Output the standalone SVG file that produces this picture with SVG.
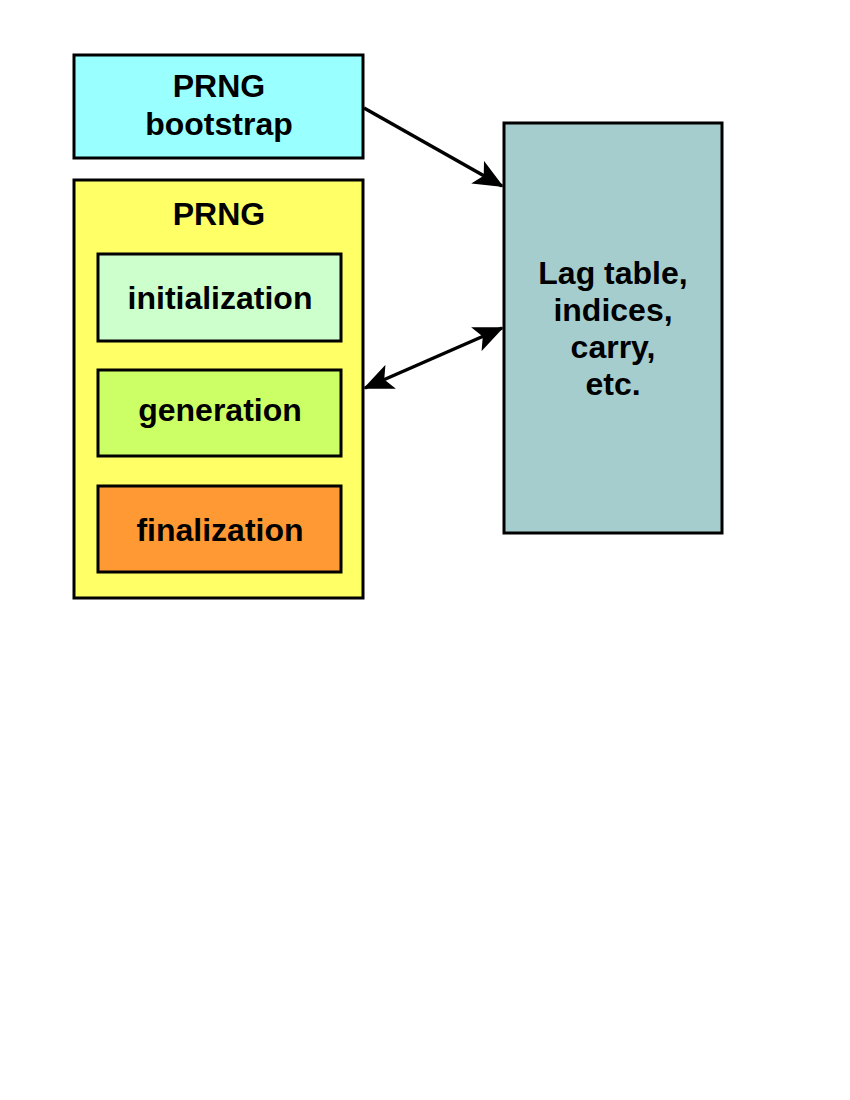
<svg xmlns="http://www.w3.org/2000/svg" width="850" height="1100" viewBox="0 0 850 1100">
<style>
.box{stroke:#000;stroke-width:3}
.t{font-family:"Liberation Sans",Arial,sans-serif;font-weight:bold;font-size:32px;text-anchor:middle;fill:#000}
.c{stroke:#000;stroke-width:3.5;fill:none}
</style>
<defs>
<marker id="ah" markerUnits="userSpaceOnUse" markerWidth="30" markerHeight="26" refX="28" refY="13" orient="auto-start-reverse" viewBox="0 0 30 26">
<path d="M0,0 L30,13 L0,26 L7,13 Z" fill="#000"/>
</marker>
</defs>
<rect width="850" height="1100" fill="#fff"/>
<g id="bootstrap">
<rect class="box" x="74" y="55" width="289" height="103" fill="#99FFFF"/>
<text class="t" x="219" y="97">PRNG</text>
<text class="t" x="219" y="135">bootstrap</text>
</g>
<g id="prng">
<rect class="box" x="74" y="180" width="289" height="418" fill="#FFFF66"/>
<text class="t" x="219" y="225">PRNG</text>
</g>
<g id="initialization">
<rect class="box" x="98" y="254" width="243" height="87" fill="#CCFFCC"/>
<text class="t" x="220" y="309">initialization</text>
</g>
<g id="generation">
<rect class="box" x="98" y="370" width="243" height="86" fill="#CCFF66"/>
<text class="t" x="220" y="421">generation</text>
</g>
<g id="finalization">
<rect class="box" x="98" y="486" width="243" height="86" fill="#FF9933"/>
<text class="t" x="220" y="541">finalization</text>
</g>
<g id="lagtable">
<rect class="box" x="504" y="123" width="218" height="410" fill="#A5CDCD"/>
<text class="t" x="613" y="284">Lag table,</text>
<text class="t" x="613" y="321">indices,</text>
<text class="t" x="613" y="358">carry,</text>
<text class="t" x="613" y="395">etc.</text>
</g>
<g id="connectors">
<line class="c" x1="364" y1="108" x2="502" y2="186" marker-end="url(#ah)"/>
<line class="c" x1="365" y1="388" x2="502" y2="328" marker-start="url(#ah)" marker-end="url(#ah)"/>
</g>
</svg>
